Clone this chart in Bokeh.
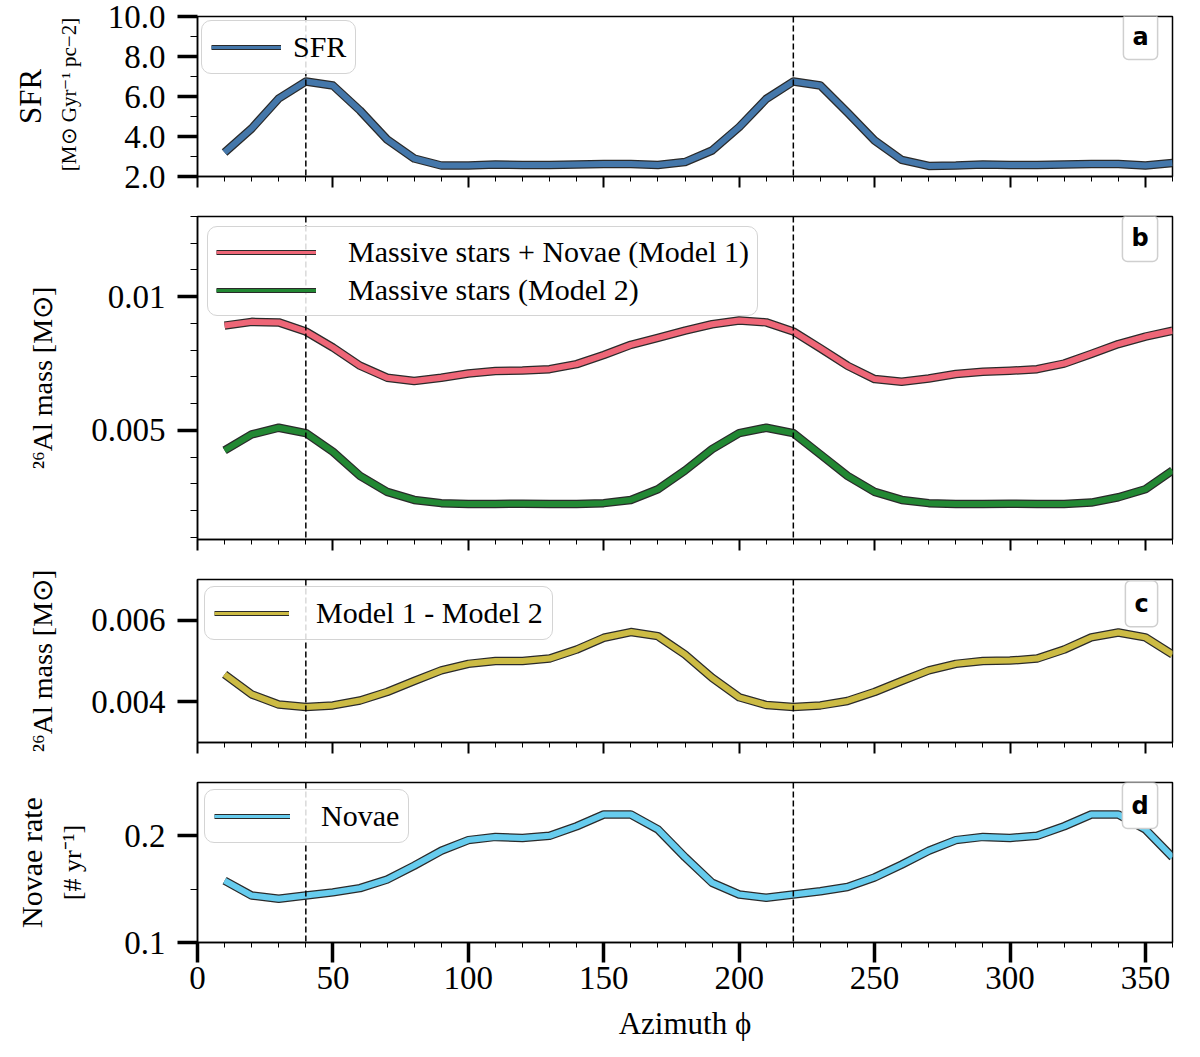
from bokeh.plotting import figure
from bokeh.layouts import column
from bokeh.models import (Range1d, FixedTicker, LinearAxis, Legend, LegendItem, Span,
                          Label, ColumnDataSource, PrintfTickFormatter, CustomJSTickFormatter)
from bokeh.embed import file_html
from bokeh.resources import INLINE

# ---------------- data ----------------
azimuth = [10, 20, 30, 40, 50, 60, 70, 80, 90, 100, 110, 120, 130, 140, 150, 160, 170, 180,
           190, 200, 210, 220, 230, 240, 250, 260, 270, 280, 290, 300, 310, 320, 330, 340, 350, 360]

sfr = [3.2, 4.4, 5.9, 6.75, 6.55, 5.3, 3.85, 2.9, 2.55, 2.55, 2.6, 2.58, 2.57, 2.6, 2.63, 2.63, 2.58, 2.72,
       3.3, 4.47, 5.88, 6.75, 6.55, 5.2, 3.8, 2.83, 2.53, 2.55, 2.6, 2.58, 2.57, 2.6, 2.63, 2.62, 2.55, 2.68]

model1 = [0.00892, 0.00906, 0.00904, 0.0087, 0.0081, 0.00742, 0.00697, 0.00685, 0.00697, 0.00713,
          0.00722, 0.00724, 0.00729, 0.00748, 0.00782, 0.0082, 0.00846, 0.00873,
          0.00897, 0.00911, 0.00904, 0.0087, 0.00807, 0.00742, 0.00692, 0.00682, 0.00694, 0.00711,
          0.00719, 0.00723, 0.00729, 0.0075, 0.00786, 0.00823, 0.00851, 0.00873]

model2 = [0.00425, 0.00485, 0.0051, 0.0049, 0.0042, 0.0033, 0.0027, 0.0024, 0.00228, 0.00225,
          0.00225, 0.00226, 0.00225, 0.00225, 0.00228, 0.0024, 0.0028, 0.0035,
          0.0043, 0.0049, 0.0051, 0.0049, 0.0041, 0.0033, 0.0027, 0.0024, 0.00228, 0.00225,
          0.00225, 0.00226, 0.00225, 0.00225, 0.0023, 0.0025, 0.0028, 0.0035]

model_diff = [0.00467, 0.00418, 0.00393, 0.00387, 0.00391, 0.00403, 0.00424, 0.00451, 0.00477, 0.00493,
              0.005, 0.005, 0.00506, 0.00528, 0.00557, 0.00571, 0.00561, 0.00516,
              0.00459, 0.00411, 0.00392, 0.00387, 0.00391, 0.00402, 0.00424, 0.00451, 0.00477, 0.00493,
              0.005, 0.00501, 0.00506, 0.00528, 0.00558, 0.0057, 0.00558, 0.00516]

novae = [0.158, 0.144, 0.141, 0.144, 0.147, 0.151, 0.159, 0.172, 0.186, 0.196,
         0.199, 0.198, 0.2, 0.209, 0.22, 0.22, 0.206, 0.18,
         0.156, 0.145, 0.142, 0.145, 0.148, 0.152, 0.161, 0.173, 0.186, 0.196,
         0.199, 0.198, 0.2, 0.209, 0.22, 0.22, 0.206, 0.18]

arm_azimuths = [40, 220]

x_major_ticks = [0, 50, 100, 150, 200, 250, 300, 350]
x_minor_ticks = [0, 10, 20, 30, 40, 50, 60, 70, 80, 90, 100, 110, 120, 130, 140, 150, 160, 170, 180,
                 190, 200, 210, 220, 230, 240, 250, 260, 270, 280, 290, 300, 310, 320, 330, 340, 350, 360]

sfr_ticks = [2, 4, 6, 8, 10]
sfr_minor = [3, 5, 7, 9]
mass_ticks = [0.005, 0.01]
mass_minor = [0.001, 0.002, 0.003, 0.004, 0.006, 0.007, 0.008, 0.009, 0.011, 0.012, 0.013]
diff_ticks = [0.004, 0.006]
diff_minor = []
novae_ticks = [0.1, 0.2]
novae_minor = [0.15]

BLUE = "#4477AA"
RED = "#EE6677"
GREEN = "#228833"
YELLOW = "#CCBB44"
CYAN = "#66CCEE"
EDGE = "#2a2a2a"
SERIF = "Liberation Serif"

src = ColumnDataSource(dict(x=azimuth, sfr=sfr, m1=model1, m2=model2, d=model_diff, nov=novae))


def make_panel(y0, y1, frame_h, b_top, b_bottom, yticks, yminor, yfmt, last=False):
    p = figure(frame_width=975, frame_height=frame_h,
               x_range=Range1d(0, 360), y_range=Range1d(y0, y1),
               output_backend="svg", toolbar_location=None, title_location=None,
               min_border_left=197, min_border_right=12,
               min_border_top=b_top, min_border_bottom=b_bottom,
               background_fill_color="white", border_fill_color="white")
    p.xgrid.visible = False
    p.ygrid.visible = False
    p.outline_line_color = "black"
    p.outline_line_width = 1.5
    p.outline_line_alpha = 1.0

    xa = p.xaxis[0]
    xa.ticker = FixedTicker(ticks=x_major_ticks, minor_ticks=x_minor_ticks)
    xa.axis_line_color = "black"
    xa.axis_line_width = 1.5
    xa.major_tick_in = 0
    xa.minor_tick_in = 0
    xa.major_tick_line_color = "black"
    xa.minor_tick_line_color = "black"
    xa.minor_tick_out = 5
    xa.minor_tick_line_width = 1
    if last:
        xa.major_tick_out = 20
        xa.major_tick_line_width = 3.5
        xa.major_label_text_font = SERIF
        xa.major_label_text_font_size = "33px"
        xa.major_label_text_color = "black"
        xa.major_label_standoff = 4
        xa.axis_label = "Azimuth \u03d5"
        xa.axis_label_text_font = SERIF
        xa.axis_label_text_font_size = "31px"
        xa.axis_label_text_font_style = "normal"
        xa.axis_label_text_color = "black"
        xa.axis_label_standoff = 14
    else:
        xa.major_tick_out = 11
        xa.major_tick_line_width = 2
        xa.formatter = CustomJSTickFormatter(code="return ''")
        xa.major_label_standoff = 0

    ya = p.yaxis[0]
    ya.ticker = FixedTicker(ticks=yticks, minor_ticks=yminor)
    ya.formatter = PrintfTickFormatter(format=yfmt)
    ya.axis_line_color = "black"
    ya.axis_line_width = 1.5
    ya.major_tick_in = 0
    ya.minor_tick_in = 0
    ya.major_tick_out = 20
    ya.major_tick_line_width = 3.5
    ya.major_tick_line_color = "black"
    ya.minor_tick_out = 7
    ya.minor_tick_line_width = 1
    ya.minor_tick_line_color = "black"
    ya.major_label_text_font = SERIF
    ya.major_label_text_font_size = "33px"
    ya.major_label_text_color = "black"
    ya.major_label_standoff = 12
    ya.axis_label_text_font = SERIF
    ya.axis_label_text_font_style = "normal"
    ya.axis_label_text_color = "black"

    for a in arm_azimuths:
        p.add_layout(Span(location=a, dimension="height", line_color="black",
                          line_dash="6 3", line_width=1.5))
    return p


def outer_label(p, text, size, standoff):
    ax = LinearAxis(ticker=FixedTicker(ticks=[]), axis_line_color=None,
                    major_tick_line_color=None, minor_tick_line_color=None,
                    major_tick_out=0, major_tick_in=0, minor_tick_out=0, minor_tick_in=0,
                    major_label_standoff=0,
                    axis_label=text, axis_label_standoff=standoff,
                    axis_label_text_font=SERIF, axis_label_text_font_size=size,
                    axis_label_text_font_style="normal", axis_label_text_color="black")
    p.add_layout(ax, "left")


def outlined(p, col, color):
    p.line("x", col, source=src, line_color=EDGE, line_width=8.5, line_join="round")
    p.line("x", col, source=src, line_color=color, line_width=6, line_join="round")


def legend_item(p, label, color, yref):
    # legend swatch renderers: placed left of the x range, so only the legend shows them
    r1 = p.line(x=[-60, -50], y=[yref, yref], line_color=EDGE, line_width=5)
    r2 = p.line(x=[-60, -50], y=[yref, yref], line_color=color, line_width=3)
    return LegendItem(label=label, renderers=[r1, r2])


def add_legend(p, items, glyph_w, standoff, margin, padding, spacing=2):
    lg = Legend(items=items, location="top_left", glyph_width=glyph_w, glyph_height=20,
                label_standoff=standoff, margin=margin, padding=padding, spacing=spacing,
                label_text_font=SERIF, label_text_font_size="30px", label_text_color="black",
                border_line_color="#d4d4d4", border_line_width=1, border_line_alpha=1,
                background_fill_color="white", background_fill_alpha=0.85)
    if "border_radius" in Legend.properties():
        lg.border_radius = 10
    p.add_layout(lg)


def panel_tag(p, text, x, y):
    lab = Label(x=x, y=y, text=text, text_font="DejaVu Sans", text_font_style="bold",
                text_font_size="24px", text_color="black",
                background_fill_color="white", background_fill_alpha=1.0,
                border_line_color="#cfcfcf", border_line_width=1.5)
    props = Label.properties()
    if "anchor" in props:
        lab.anchor = "top_right"
    else:
        lab.text_align = "right"
        lab.text_baseline = "top"
    if "padding" in props:
        lab.padding = 9
    if "border_radius" in props:
        lab.border_radius = 5
    p.add_layout(lab)


# ---------------- panel a ----------------
pa = make_panel(2, 10, 160, 16, 20, sfr_ticks, sfr_minor, "%.1f")
pa.yaxis[0].axis_label = "[M\u2299 Gyr\u207b\u00b9 pc\u22122]"
pa.yaxis[0].axis_label_text_font_size = "21px"
pa.yaxis[0].axis_label_standoff = 24
outer_label(pa, "SFR", "31px", 6)
outlined(pa, "sfr", BLUE)
add_legend(pa, [legend_item(pa, "SFR", BLUE, 5)], 70, 12, 4, 9)
panel_tag(pa, "a", 354.5, 10.15)

# ---------------- panel b ----------------
pb = make_panel(0.00092, 0.0130, 323, 20, 20, mass_ticks, mass_minor, "%g")
pb.yaxis[0].axis_label = "\u00b2\u2076Al mass [M\u2299]"
pb.yaxis[0].axis_label_text_font_size = "28px"
pb.yaxis[0].axis_label_standoff = 30
outlined(pb, "m1", RED)
outlined(pb, "m2", GREEN)
add_legend(pb, [legend_item(pb, "Massive stars + Novae (Model 1)", RED, 0.005),
                legend_item(pb, "Massive stars (Model 2)", GREEN, 0.005)], 100, 32, 10, 8, 4)
panel_tag(pb, "b", 354.5, 0.01304)

# ---------------- panel c ----------------
pc = make_panel(0.003, 0.007, 163, 20, 20, diff_ticks, diff_minor, "%g")
pc.yaxis[0].axis_label = "\u00b2\u2076Al mass [M\u2299]"
pc.yaxis[0].axis_label_text_font_size = "28px"
pc.yaxis[0].axis_label_standoff = 30
outlined(pc, "d", YELLOW)
add_legend(pc, [legend_item(pc, "Model 1 - Model 2", YELLOW, 0.005)], 75, 27, 7, 9)
panel_tag(pc, "c", 354.5, 0.00697)

# ---------------- panel d ----------------
pd_ = make_panel(0.1, 0.25, 160, 20, 60, novae_ticks, novae_minor, "%g", last=True)
pd_.yaxis[0].axis_label = "[# yr\u207b\u00b9]"
pd_.yaxis[0].axis_label_text_font_size = "26px"
pd_.yaxis[0].axis_label_standoff = 34
outer_label(pd_, "Novae rate", "30px", 8)
outlined(pd_, "nov", CYAN)
add_legend(pd_, [legend_item(pd_, "Novae", CYAN, 0.15)], 76, 31, 7, 9)
panel_tag(pd_, "d", 354.5, 0.25)

layout = column(pa, pb, pc, pd_, spacing=0)

with open("out.html", "w") as f:
    f.write(file_html(layout, INLINE, "Azimuthal profiles"))
